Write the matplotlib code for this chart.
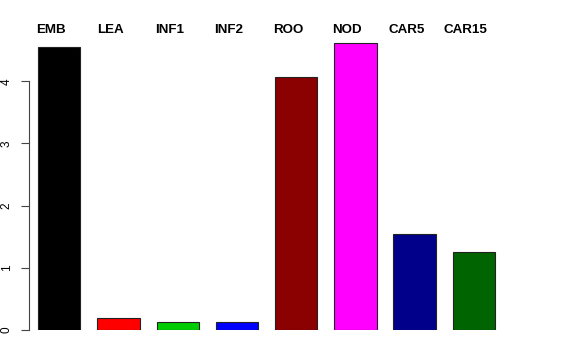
import matplotlib
matplotlib.use('Agg')
import matplotlib.pyplot as plt
import numpy as np

tissues = ['EMB', 'LEA', 'INF1', 'INF2', 'ROO', 'NOD', 'CAR5', 'CAR15']
values = [4.55, 0.19, 0.13, 0.13, 4.06, 4.61, 1.55, 1.26]
colors = ['#000000', '#FF0000', '#00CD00', '#0000FF',
          '#8B0000', '#FF00FF', '#00008B', '#006400']

plt.rcParams['font.family'] = ['Liberation Sans', 'DejaVu Sans']

W, H = 576, 360
fig = plt.figure(figsize=(W / 100, H / 100), dpi=100)

# axes placed in pixel terms, R-like barplot (width 1, space 0.4)
px_left, px_right = 29.3, 560.0
px_bottom, px_top = 330.0, 20.0
unit_x = 42.3   # pixels per data unit in x
unit_y = 62.2   # pixels per data unit in y
x0_px = 21.2    # pixel of x = 0

ax = fig.add_axes([px_left / W, (H - px_bottom) / H,
                   (px_right - px_left) / W, (px_bottom - px_top) / H])
ax.set_xlim((px_left - x0_px) / unit_x, (px_right - x0_px) / unit_x)
ax.set_ylim(0, (px_bottom - px_top) / unit_y)

x = 0.4 + 0.5 + np.arange(len(values)) * 1.4
ax.bar(x, values, width=1.0, color=colors, edgecolor='#222222', linewidth=0.8)

for xi, lab in zip(x, tissues):
    ax.text(xi - 0.19, 4.77, lab, ha='center', va='baseline',
            fontsize=9.6, fontweight='bold', clip_on=False)

for s in ['top', 'right', 'bottom']:
    ax.spines[s].set_visible(False)
ax.spines['left'].set_bounds(0, 4)
ax.spines['left'].set_linewidth(0.8)
ax.spines['left'].set_color('#444444')
ax.set_xticks([])
ax.set_yticks([0, 1, 2, 3, 4])
ax.tick_params(axis='y', length=5.8, width=0.8, color='#444444', pad=6,
               labelsize=8.5)
for t in ax.get_yticklabels():
    t.set_rotation(90)
    t.set_va('center')

fig.savefig('out.png', dpi=100)
